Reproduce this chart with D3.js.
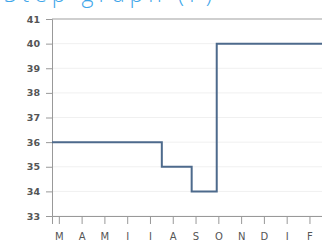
<!DOCTYPE html>
<html>
<head>
<meta charset="utf-8">
<script src="https://cdn.jsdelivr.net/npm/d3@7"></script>
<style>
  body { margin:0; background:#fff; }
  #canvas { width:322px; height:240px; overflow:hidden; }
</style>
</head>
<body>
<div id="canvas" class="canvas"></div>
<script>
// data
var months = ['M','A','M','J','J','A','S','O','N','D','J','F'];
var yTicks = [33,34,35,36,37,38,39,40,41];
// step points: month position (0 = March) and value
var stepMonth = [-0.3, 4.52, 5.83, 6.93, 11.55];
var stepValue = [36, 35, 34, 40, 40];

var m = {t:19,r:0,b:24,l:52},
    w = 322 - m.l - m.r,
    h = 240 - m.t - m.b;

var svg = d3.select('.canvas').append('svg')
    .attr('width',322)
    .attr('height',240);

// title, mostly cut off at the top
svg.append('text')
    .attr('x',4)
    .attr('y',2)
    .style('font-family','Open Sans, sans-serif')
    .style('font-size','23px')
    .style('font-weight','300')
    .style('letter-spacing','5px')
    .style('fill','#3ea6ea')
    .text('Step graph (F)');

var plot = svg.append('g')
    .attr('transform','translate('+ m.l+','+ m.t+')');

var scaleX = d3.scaleLinear()
    .domain([-0.3, 11.55])
    .range([0, w]);

var scaleY = d3.scaleLinear()
    .domain([33, 41])
    .range([h, 0]);

// gridlines
plot.selectAll('.grid').data(yTicks).enter()
    .append('line')
    .attr('x1',0).attr('x2',w)
    .attr('y1',function(d){ return scaleY(d); })
    .attr('y2',function(d){ return scaleY(d); })
    .style('stroke', function(d){ return d === 41 ? '#cfcfcf' : '#f0f0f0'; })
    .style('stroke-width', function(d){ return d === 41 ? 2 : 1; });

var yAxis = d3.axisLeft(scaleY).tickValues(yTicks).tickSize(6).tickPadding(6);
var xAxis = d3.axisBottom(scaleX)
    .tickValues(d3.range(months.length))
    .tickFormat(function(i){ return months[i]; })
    .tickSize(8).tickPadding(9);

var gy = plot.append('g').call(yAxis);
gy.selectAll('text')
    .style('font-family','DejaVu Sans, sans-serif')
    .style('font-size','9.5px')
    .style('font-weight','bold')
    .style('fill','#555');

var gx = plot.append('g').call(xAxis)
    .attr('transform','translate(0,'+ h +')');
gx.selectAll('text')
    .style('font-family','DejaVu Sans, sans-serif')
    .style('font-size','10px')
    .style('fill','#555');

plot.selectAll('.domain').style('stroke','#999');
plot.selectAll('.tick line').style('stroke','#999');

// step line
var pts = stepMonth.map(function(d,i){ return [d, stepValue[i]]; });
var line = d3.line()
    .x(function(d){ return scaleX(d[0]); })
    .y(function(d){ return scaleY(d[1]); })
    .curve(d3.curveStepAfter);

plot.append('path')
    .datum(pts)
    .attr('d', line)
    .style('fill','none')
    .style('stroke','#4d6a8c')
    .style('stroke-width',2);
</script>
</body>
</html>
